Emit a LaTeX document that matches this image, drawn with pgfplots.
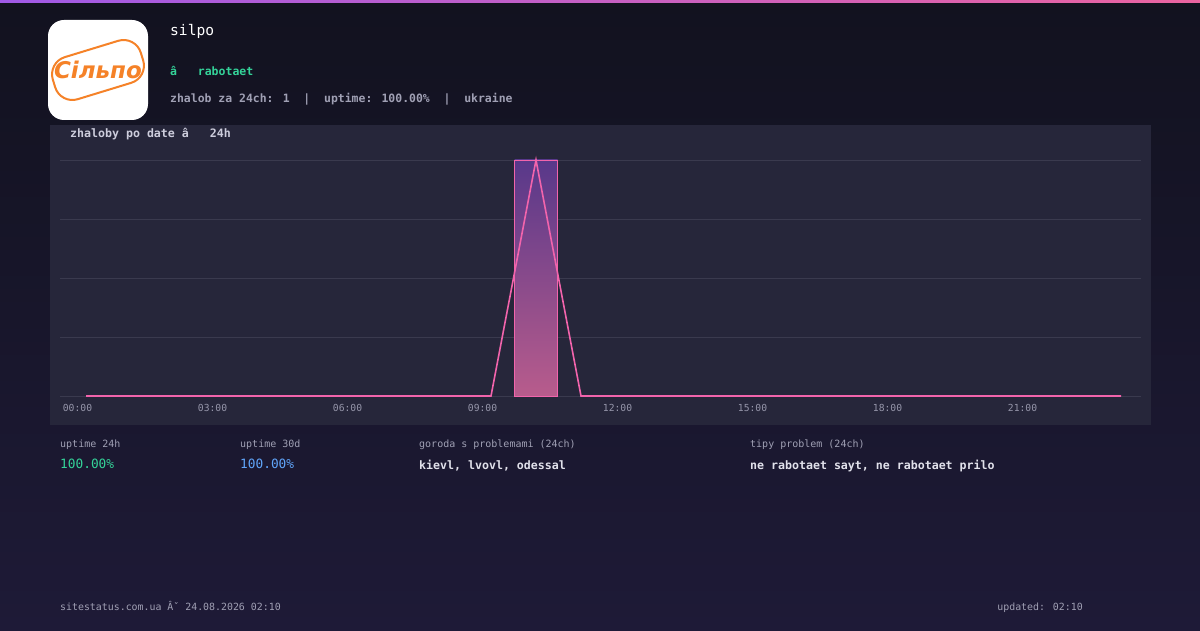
\documentclass[border=0pt]{standalone}
\usepackage{pgfplots}
\pgfplotsset{compat=1.18}
\usepackage{fontspec}
\setmainfont{DejaVu Sans Mono}
\setmonofont{DejaVu Sans Mono}
\newfontfamily\logofont{DejaVu Sans}
\definecolor{bgtop}{RGB}{18,18,31}
\definecolor{bgbot}{RGB}{30,26,55}
\definecolor{stripeL}{RGB}{160,90,230}
\definecolor{stripeR}{RGB}{235,100,160}
\definecolor{panel}{RGB}{38,38,58}
\definecolor{gridc}{RGB}{58,58,78}
\definecolor{pinkl}{RGB}{242,100,172}
\definecolor{bartop}{RGB}{88,56,138}
\definecolor{barbot}{RGB}{184,92,140}
\definecolor{greenc}{RGB}{52,211,153}
\definecolor{bluec}{RGB}{96,165,250}
\definecolor{grayc}{RGB}{160,160,180}
\definecolor{tickc}{RGB}{150,150,170}
\definecolor{lightc}{RGB}{225,225,235}
\definecolor{titlec}{RGB}{205,205,220}
\definecolor{logoorange}{RGB}{245,130,40}
\newcommand{\fs}[1]{\fontsize{#1}{#1}\selectfont}
\begin{document}
\begin{tikzpicture}[x=1pt,y=1pt]
\useasboundingbox (0,0) rectangle (1200,630);
\shade[top color=bgtop,bottom color=bgbot] (0,0) rectangle (1200,630);
\shade[left color=stripeL,right color=stripeR] (0,627) rectangle (1200,630);
% logo
\fill[white,rounded corners=16pt] (48,510) rectangle (148,610);
\begin{scope}[shift={(98,560)},rotate=17]
\draw[logoorange,line width=2pt,rounded corners=18pt] (-46,-22) rectangle (46,22);
\node[text=logoorange,inner sep=0] at (0,0) {\logofont\bfseries\itshape\fs{23}Сільпо};
\end{scope}
% panel
\fill[panel] (50,205) rectangle (1151,505);
\begin{axis}[
  at={(60pt,234pt)}, anchor=south west,
  scale only axis, width=1081pt, height=236pt,
  xmin=-0.578, xmax=23.444, ymin=0, ymax=1,
  clip=false,
  axis line style={draw=none},
  major tick length=0pt,
  ytick={0,0.25,0.5,0.75,1}, yticklabels={},
  ymajorgrids, grid style={color=gridc,line width=0.8pt},
  xtick={0,3,6,9,12,15,18,21},
  xticklabels={00:00,03:00,06:00,09:00,12:00,15:00,18:00,21:00},
  xticklabel style={anchor=center,yshift=-12pt,xshift=-8.5pt,font=\fs{9.7},text=tickc},
]
\addplot[ybar, bar width=43pt, draw=pinkl, line width=0.8pt, top color=bartop, bottom color=barbot] coordinates {(10,1)};
\addplot[pinkl, line width=1.6pt, mark=none] coordinates {
(0,0) (1,0) (2,0) (3,0) (4,0) (5,0) (6,0) (7,0) (8,0) (9,0) (10,1) (11,0)
(12,0) (13,0) (14,0) (15,0) (16,0) (17,0) (18,0) (19,0) (20,0) (21,0) (22,0) (23,0)};
\end{axis}
% header texts
\node[anchor=west,inner sep=0,text=white] at (170,599) {\fs{14.6}silpo};
\node[anchor=west,inner sep=0,text=greenc] at (170,559) {\fs{11.5}\bfseries â\ \ \ rabotaet};
\node[anchor=west,inner sep=0,text=grayc] at (170,531) {\fs{11.45}\bfseries zhalob za 24ch: 1\ \ |\ \ uptime: 100.00\%\ \ |\ \ ukraine};
\node[anchor=west,inner sep=0,text=titlec] at (70,496) {\fs{11.6}\bfseries zhaloby po date â\ \ \ 24h};
% stats
\node[anchor=west,inner sep=0,text=grayc] at (60,185.5) {\fs{10}uptime 24h};
\node[anchor=west,inner sep=0,text=greenc] at (60,166) {\fs{12.8}100.00\%};
\node[anchor=west,inner sep=0,text=grayc] at (240,185.5) {\fs{10}uptime 30d};
\node[anchor=west,inner sep=0,text=bluec] at (240,166) {\fs{12.8}100.00\%};
\node[anchor=west,inner sep=0,text=grayc] at (419,185.5) {\fs{10}goroda s problemami (24ch)};
\node[anchor=west,inner sep=0,text=lightc] at (419,164) {\fs{11.6}\bfseries kievl, lvovl, odessal};
\node[anchor=west,inner sep=0,text=grayc] at (750,185.5) {\fs{10}tipy problem (24ch)};
\node[anchor=west,inner sep=0,text=lightc] at (750,164) {\fs{11.6}\bfseries ne rabotaet sayt, ne rabotaet prilo};
% footer
\node[anchor=base west,inner sep=0,text=grayc] at (60,19.5) {\fs{9.9}sitestatus.com.ua Âˇ 24.08.2026 02:10};
\node[anchor=base east,inner sep=0,text=grayc] at (1083,19.5) {\fs{9.9}updated: 02:10};
\end{tikzpicture}
\end{document}
